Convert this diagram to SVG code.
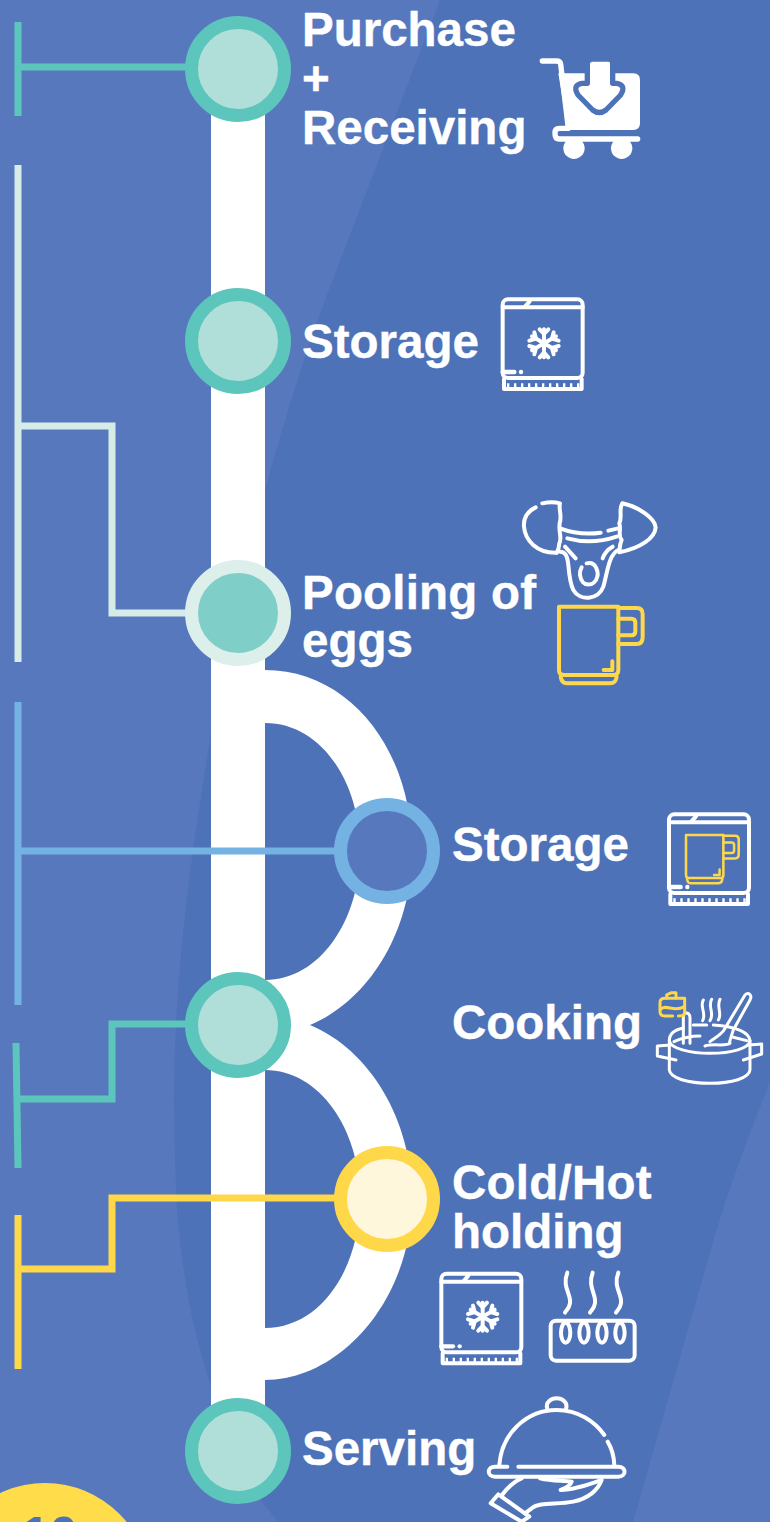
<svg xmlns="http://www.w3.org/2000/svg" width="770" height="1522" viewBox="0 0 770 1522">
<style>
text{font-family:"Liberation Sans",Arial,sans-serif;font-weight:700;font-size:47.5px;fill:#fff;stroke:#fff;stroke-width:.4px}
.w{fill:none;stroke:#fff;stroke-width:12;stroke-linecap:round;stroke-linejoin:round}
.y{fill:none;stroke:#FFD84A;stroke-width:12;stroke-linecap:round;stroke-linejoin:round}
.c{fill:none;stroke-width:7}
.n{stroke-width:13}
.t{fill:#B0DED8;stroke:#5CC5BC}
</style>
<defs>
<g id="fridge" class="w">
<rect x="7" y="7" width="240" height="236" rx="16"/>
<path d="M7 31H247"/>
<path d="M74 29L88 13"/>
<path d="M7 225H42" stroke-width="13"/>
<path d="M62 225h0.1" stroke-width="13"/>
<path d="M11 246V276H244V246"/>
<path d="M20 266H238" stroke-dasharray="7 14" stroke-linecap="butt" stroke-width="14"/>
</g>
<g id="flake" class="w" >
<path d="M0 -42V42M-36 -21L36 21M-36 21L36 -21"/>
<path d="M-13 -42L0 -28L13 -42M-13 42L0 28L13 42M-44 -8L-24 -14L-29 -33M44 8L24 14L29 33M-44 8L-24 14L-29 33M44 -8L24 -14L29 -33"/>
</g>
<g id="mug" class="y">
<path d="M147 350H325V540Q325 555 310 555H162Q147 555 147 540Z"/>
<path d="M152 560Q155 580 170 580H300Q318 580 320 560"/>
<path d="M325 354H380Q398 354 398 372V442Q398 462 380 462H325"/>
<path d="M325 386H364Q376 386 376 398V424Q376 436 364 436H325"/>
<path d="M307 514V540H281"/>
</g>
</defs>
<rect id="background" width="770" height="1522" fill="#5878BE"/>
<path id="background-dark" d="M440 0H770V1082C755 1120 745 1145 733 1180C720 1215 710 1255 700 1287L633 1522H278L263 1503C240 1470 225 1430 211 1387C200 1350 195 1335 190 1307C182 1265 177 1225 176 1190C175 1155 174 1125 174 1090C175 960 195 830 211 733C230 620 270 450 325 300Z" fill="#4D72B8"/>
<g id="track" fill="#fff">
<rect x="211" y="68" width="54" height="1382"/>
<path d="M265 670C350 670 412 750 412 851C412 930 370 1000 310 1025L265 1040V980C320 980 360 920 360 851C360 780 320 723 265 723Z"/>
<path d="M310 1025C370 1050 412 1120 412 1198C412 1300 340 1380 265 1380V1328C320 1328 360 1270 360 1198C360 1130 320 1070 265 1070L265 1020Z"/>
</g>
<g id="connectors" class="c">
<path stroke="#5CC5BC" d="M18 22V116M18 67H190"/>
<path stroke="#D5EDE6" d="M18 165V662M18 426H112V613H190"/>
<path stroke="#74B2E4" d="M18 702V1005M18 851H340"/>
<path stroke="#5CC5BC" d="M16 1043L18 1168M17 1099H112V1024H190"/>
<path stroke="#FFD84A" d="M18 1215V1369M18 1269H112V1198H340"/>
</g>
<g id="node-purchase">
<circle class="n t" cx="238" cy="69" r="46.5"/>
<text x="302" y="46">Purchase</text><text x="302" y="95">+</text><text x="302" y="144">Receiving</text>
<g transform="translate(500 40) scale(.3333)">
<path fill="#fff" d="M175 100H400Q420 100 420 120V250Q420 270 400 270H203Z"/>
<path class="w" style="stroke-width:16" d="M127 63H170Q180 63 182 72L205 265H178Q165 265 165 278V282Q165 297 178 297H413"/>
<path fill="#fff" stroke="#4D72B8" stroke-width="16" stroke-linejoin="round" d="M262 60H338V130H350Q380 135 362 165L318 210Q298 225 278 210L234 165Q216 135 246 130H262Z"/>
<path fill="#fff" stroke="#fff" stroke-width="6" stroke-linejoin="round" d="M276 68H326V145H350L308 198Q298 208 288 198L248 145H276Z"/>
<circle cx="222" cy="325" r="32" fill="#fff"/><circle cx="365" cy="325" r="32" fill="#fff"/>
</g>
</g>
<g id="node-storage-1">
<circle class="n t" cx="238" cy="341" r="46.5"/>
<text x="302" y="358">Storage</text>
<g transform="translate(490 285) scale(.3333)">
<use href="#fridge" x="31" y="36"/><use href="#flake" x="162" y="175"/>
</g>
</g>
<g id="node-pooling">
<circle class="n" fill="#7FCFC8" stroke="#DCEFEA" cx="238" cy="613" r="46.5"/>
<text x="302" y="609" letter-spacing=".2">Pooling of</text><text x="302" y="657">eggs</text>
<g transform="translate(510 490) scale(.3333)">
<g class="w">
<path d="M77 52C50 65 40 85 42 110C45 150 80 190 140 188"/>
<path d="M97 40C115 36 135 36 150 40C145 60 157 75 149 100C145 125 157 145 148 160C147 175 142 185 140 188"/>
<path d="M337 40C325 60 338 80 328 100C335 120 322 135 335 150C328 165 330 175 328 187C390 175 435 145 437 112C435 85 385 50 337 40Z"/>
<path d="M150 115C190 130 235 133 272 128M295 122L325 115M172 145C220 158 275 155 320 140"/>
<path d="M150 185C165 185 172 195 175 225C178 260 182 285 190 300C210 335 265 330 280 290C292 250 295 195 325 180"/>
<path d="M165 170L197 205M308 170C290 180 283 190 278 205"/>
<path d="M230 220C260 212 265 250 262 260C255 290 215 295 210 255C208 245 212 238 215 232"/>
</g>
<use href="#mug"/>
</g>
</g>
<g id="node-storage-2">
<circle class="n" fill="#5878BE" stroke="#74B2E4" cx="387" cy="851" r="46.5"/>
<text x="452" y="861">Storage</text>
<g transform="translate(650 800) scale(.3333)"><use href="#fridge" x="50" y="36"/></g>
<g transform="translate(686 835) scale(.21) translate(-147 -350)"><use href="#mug"/></g>
</g>
<g id="node-cooking">
<circle class="n t" cx="238" cy="1025" r="46.5"/>
<text x="452" y="1039">Cooking</text>
<g transform="translate(650 800) scale(.3333)">
<g class="w" style="stroke-width:9">
<path d="M100 684C70 690 58 705 58 722C60 745 120 760 180 760C245 760 298 745 300 722C298 700 265 680 190 675M170 675H130"/>
<path d="M58 722V810C60 835 115 850 180 850C245 850 298 835 300 810V722"/>
<path d="M62 735L22 738V768L78 780M296 735L335 732V762L280 780"/>
<path d="M72 725C100 712 130 708 150 708M165 738C190 730 230 740 240 730M250 712L290 722M100 730V650C100 635 120 635 120 655V730"/>
<path d="M160 600C148 620 170 640 158 662M185 598C172 620 195 640 180 662M210 598C198 620 218 640 205 660"/>
<path d="M180 725C200 710 212 705 222 690L285 585C295 575 308 585 300 600L250 690C245 705 240 720 238 730"/>
</g>
<g class="y" style="stroke-width:9">
<path d="M68 648H45Q30 648 30 635V608Q30 595 45 595H104V640Q104 648 85 648"/>
<path d="M50 594V585L65 578H78V594M32 628C50 610 70 640 103 620"/>
</g>
</g>
</g>
<g id="node-holding">
<circle class="n" fill="#FEF7DC" stroke="#FFD84A" cx="387" cy="1199" r="46.5"/>
<text x="452" y="1199" letter-spacing=".25">Cold/Hot</text><text x="452" y="1248">holding</text>
<g transform="translate(430 1260) scale(.3333)">
<use href="#fridge" x="27" y="34"/><use href="#flake" x="158" y="170"/>
<g class="w">
<rect x="362" y="182" width="252" height="120" rx="16"/>
<path d="M412 38C395 80 425 105 420 130C418 145 410 150 405 158M488 38C472 80 500 105 495 130C493 145 485 150 480 158M565 38C548 80 578 105 573 130C571 145 563 150 558 158"/>
<ellipse cx="407" cy="218" rx="14" ry="30"/><ellipse cx="462" cy="218" rx="14" ry="30"/><ellipse cx="516" cy="218" rx="14" ry="30"/><ellipse cx="570" cy="218" rx="14" ry="30"/>
</g>
</g>
</g>
<g id="node-serving">
<circle class="n t" cx="238" cy="1451" r="46.5"/>
<text x="302" y="1465">Serving</text>
<g transform="translate(430 1260) scale(.3333)" class="w">
<path d="M208 615C215 520 290 450 380 450C445 450 495 485 523 525M533 545C545 565 552 590 553 615"/>
<path d="M352 447C345 425 365 415 380 415C395 415 415 425 408 447"/>
<path d="M232 620H195C170 620 170 650 195 650H565C590 650 590 620 565 620H265"/>
<path d="M275 655C250 665 235 680 218 703M330 655C370 665 400 660 425 665C420 680 405 685 392 690C430 690 470 675 515 660C505 690 475 715 430 725C380 735 330 725 305 745L285 760"/>
<path d="M205 703L182 730L275 785L298 770Z"/>
</g>
</g>
<g id="page-badge">
<circle cx="45" cy="1588" r="105" fill="#FFDD4A"/>
<text x="22" y="1552" style="fill:#4D72B8;stroke:none;font-size:50px">10</text>
</g>
</svg>
